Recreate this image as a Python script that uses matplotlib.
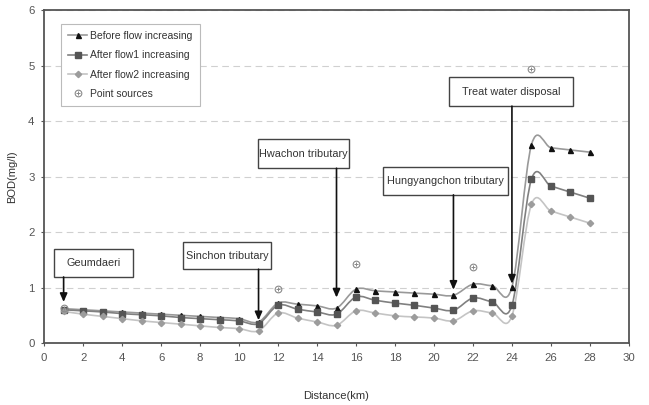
"""
BOD profile along the river for three flow scenarios, with the
tributary / discharge locations marked by callout boxes.
"""

import matplotlib
matplotlib.use("Agg")
import matplotlib.pyplot as plt
from matplotlib.path import Path
from matplotlib.patches import PathPatch, Rectangle
from matplotlib.lines import Line2D
from matplotlib.legend_handler import HandlerTuple
import numpy as np

# --- Data ------------------------------------------------------------------

distance_km = [1, 2, 3, 4, 5, 6, 7, 8, 9, 10, 11, 12, 13, 14,
               15, 16, 17, 18, 19, 20, 21, 22, 23, 24, 25, 26, 27, 28]

bod_before = [0.62, 0.60, 0.58, 0.56, 0.54, 0.52, 0.50, 0.48, 0.46, 0.44, 0.38,
              0.72, 0.70, 0.67, 0.63, 0.97, 0.94, 0.92, 0.90, 0.88, 0.86,
              1.06, 1.03, 1.01, 3.57, 3.52, 3.48, 3.44]
bod_flow1 = [0.60, 0.58, 0.56, 0.53, 0.51, 0.49, 0.46, 0.44, 0.42, 0.40, 0.35,
             0.68, 0.61, 0.56, 0.52, 0.83, 0.77, 0.72, 0.68, 0.63, 0.59,
             0.81, 0.74, 0.68, 2.95, 2.83, 2.72, 2.61]
bod_flow2 = [0.57, 0.52, 0.48, 0.44, 0.40, 0.37, 0.34, 0.31, 0.28, 0.26, 0.22,
             0.54, 0.45, 0.38, 0.32, 0.58, 0.54, 0.49, 0.47, 0.45, 0.40,
             0.58, 0.54, 0.49, 2.50, 2.38, 2.27, 2.16]

source_km = [1, 12, 16, 22, 25]
source_bod = [0.63, 0.97, 1.43, 1.37, 4.94]

callout_labels = ["Geumdaeri", "Sinchon tributary", "Hwachon tributary",
                  "Hungyangchon tributary", "Treat water disposal"]
callout_km = [1, 11, 15, 21, 24]
callout_tip_bod = [0.74, 0.41, 0.82, 0.96, 1.07]

# box extents in data units: (left, right, bottom, top)
CALLOUT_BOXES = [(0.5, 4.55, 1.19, 1.69),
                 (7.1, 11.65, 1.33, 1.82),
                 (10.95, 15.65, 3.15, 3.68),
                 (17.4, 23.8, 2.67, 3.17),
                 (20.75, 27.15, 4.27, 4.79)]

FONT = "Liberation Sans"


def smooth_path(x, y):
    """Excel-style smoothed line: cubic Bezier segments through every point."""
    pts = np.column_stack([x, y]).astype(float)
    n = len(pts)
    verts = [pts[0]]
    codes = [Path.MOVETO]
    for i in range(n - 1):
        p0 = pts[i - 1] if i > 0 else pts[i]
        p1 = pts[i]
        p2 = pts[i + 1]
        p3 = pts[i + 2] if i + 2 < n else pts[i + 1]
        c1 = p1 + (p2 - p0) / 6.0
        c2 = p2 - (p3 - p1) / 6.0
        verts += [c1, c2, p2]
        codes += [Path.CURVE4] * 3
    return Path(verts, codes)


def add_series(ax, y, line_color, marker, marker_color, msize):
    ax.add_patch(PathPatch(smooth_path(distance_km, y), facecolor="none",
                           edgecolor=line_color, lw=1.2, zorder=3))
    ax.plot(distance_km, y, linestyle="none", marker=marker, ms=msize,
            color=marker_color, mec=marker_color, zorder=4)
    return Line2D([], [], color=line_color, lw=1.2, marker=marker, ms=msize,
                  mfc=marker_color, mec=marker_color)


fig = plt.figure(figsize=(6.49, 4.05), dpi=100)
ax = fig.add_axes([0.068, 0.153, 0.901, 0.822])

h_before = add_series(ax, bod_before, "#999999", "^", "#111111", 3.6)
h_flow1 = add_series(ax, bod_flow1, "#808080", "s", "#555555", 3.8)
h_flow2 = add_series(ax, bod_flow2, "#c4c4c4", "D", "#9c9c9c", 3.2)

ax.plot(source_km, source_bod, linestyle="none", marker="o", ms=4.8,
        mfc="none", mec="#8a8a8a", mew=0.8, zorder=4)
ax.plot(source_km, source_bod, linestyle="none", marker="+", ms=2.6,
        color="#8a8a8a", mew=0.7, zorder=4)
h_src = (Line2D([], [], linestyle="none", marker="o", ms=4.8, mfc="none",
                mec="#8a8a8a", mew=0.8),
         Line2D([], [], linestyle="none", marker="+", ms=2.6, color="#8a8a8a",
                mew=0.7))

# callout boxes with vertical arrows down to the river profile
for label, km, tip, (x0, x1, y0, y1) in zip(callout_labels, callout_km,
                                             callout_tip_bod, CALLOUT_BOXES):
    ax.add_patch(Rectangle((x0, y0), x1 - x0, y1 - y0, fc="white",
                           ec="#444444", lw=1.0, zorder=6))
    ax.text((x0 + x1) / 2, (y0 + y1) / 2, label, ha="center", va="center",
            fontsize=7.8, family=FONT, color="#333333", zorder=7)
    ax.annotate("", xy=(km, tip), xytext=(km, y0), zorder=6,
                arrowprops=dict(arrowstyle="-|>,head_length=0.5,head_width=0.22",
                                color="#111111", lw=1.2,
                                shrinkA=0, shrinkB=0))

ax.set_xlim(0, 30)
ax.set_ylim(0, 6)
ax.set_xticks(np.arange(0, 31, 2))
ax.set_yticks(np.arange(0, 7, 1))
ax.tick_params(labelsize=8.2, colors="#555555", length=2, width=0.8, pad=5)
for lbl in ax.get_xticklabels() + ax.get_yticklabels():
    lbl.set_family(FONT)

ax.grid(axis="y", linestyle=(0, (6, 4)), color="#d0d0d0", lw=0.8)
ax.set_axisbelow(True)
for side in ax.spines.values():
    side.set_color("#555555")
    side.set_linewidth(1.3)

ax.set_xlabel("Distance(km)", fontsize=8, family=FONT, color="#333333",
              labelpad=20)
ax.set_ylabel("BOD(mg/l)", fontsize=8, family=FONT, color="#333333",
              labelpad=8)

leg = ax.legend([h_before, h_flow1, h_flow2, h_src],
                ["Before flow increasing", "After flow1 increasing",
                 "After flow2 increasing", "Point sources"],
                handler_map={tuple: HandlerTuple(ndivide=1, pad=0)},
                loc="upper left", bbox_to_anchor=(0.02, 0.975),
                prop={"family": FONT, "size": 7.5}, handlelength=1.8,
                handletextpad=0.3, labelspacing=0.9, borderpad=0.7,
                fancybox=False, framealpha=1)
leg.get_frame().set_edgecolor("#bbbbbb")
leg.get_frame().set_linewidth(0.8)
for t in leg.get_texts():
    t.set_color("#333333")

fig.savefig("out.png", dpi=100)
